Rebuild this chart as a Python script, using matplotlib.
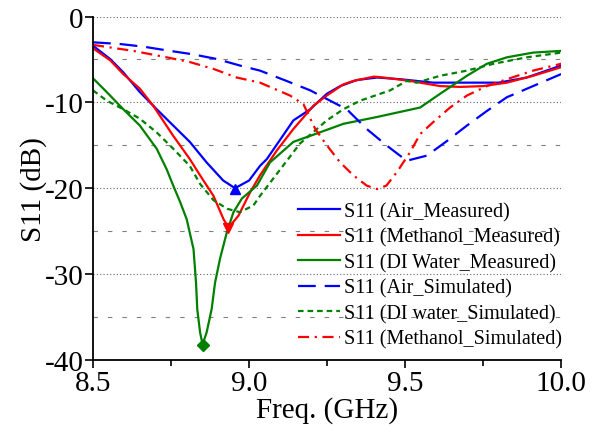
#!/usr/bin/env python3
"""S11 of the sensor: measured vs simulated for air, methanol and DI water."""
import matplotlib
matplotlib.use('Agg')
import matplotlib.pyplot as plt
from matplotlib.ticker import MultipleLocator

# --- data (freq in GHz, S11 in dB) ---
air_meas_f = [8.5, 8.555, 8.597, 8.65, 8.704, 8.757, 8.81, 8.864, 8.917, 8.955,
              9.0, 9.035, 9.057, 9.142, 9.196, 9.249, 9.292, 9.345, 9.41, 9.484,
              9.537, 9.59, 9.698, 9.80, 9.89, 10.0]
air_meas_s = [-3.4, -4.95, -6.5, -8.8, -10.8, -12.7, -14.6, -17.0, -19.1, -20.0,
              -19.1, -17.4, -16.6, -12.1, -10.8, -9.0, -8.1, -7.4, -7.1, -7.3,
              -7.5, -7.7, -7.7, -7.7, -7.1, -5.7]

meth_meas_f = [8.5, 8.555, 8.597, 8.65, 8.693, 8.757, 8.81, 8.843, 8.886, 8.918,
               8.934, 8.966, 9.003, 9.035, 9.089, 9.142, 9.206, 9.249, 9.302, 9.334,
               9.40, 9.43, 9.516, 9.612, 9.676, 9.75, 9.826, 9.91, 10.0]
meth_meas_s = [-3.7, -5.1, -6.7, -8.4, -10.4, -13.9, -16.6, -18.5, -20.9, -23.6,
               -24.6, -23.2, -20.5, -18.5, -15.6, -13.1, -10.4, -9.2, -7.9, -7.5,
               -7.0, -7.1, -7.5, -8.1, -8.2, -8.1, -7.7, -6.9, -5.9]

water_meas_f = [8.5, 8.544, 8.597, 8.65, 8.704, 8.736, 8.757, 8.779, 8.80, 8.822,
                8.83, 8.834, 8.843, 8.851, 8.864, 8.88, 8.891, 8.907, 8.929, 8.95,
                8.977, 9.025, 9.067, 9.142, 9.196, 9.302, 9.41, 9.548, 9.612, 9.698,
                9.762, 9.826, 9.91, 10.0]
water_meas_s = [-7.2, -8.8, -10.8, -12.7, -15.4, -17.8, -19.7, -21.6, -23.6, -27.1,
                -31.0, -34.1, -36.8, -38.2, -36.8, -34.1, -31.0, -28.2, -25.1, -22.8,
                -21.2, -19.7, -17.0, -14.6, -13.9, -12.5, -11.7, -10.6, -9.0, -6.9,
                -5.5, -4.75, -4.2, -4.0]

air_sim_f = [8.5, 8.587, 8.66, 8.747, 8.82, 8.897, 8.97, 9.035, 9.12, 9.196,
             9.27, 9.313, 9.377, 9.44, 9.505, 9.57, 9.634, 9.698, 9.762, 9.826,
             9.91, 10.0]
air_sim_s = [-3.0, -3.2, -3.5, -4.0, -4.4, -4.95, -5.7, -6.3, -7.5, -8.6,
             -10.0, -10.8, -13.1, -15.0, -16.8, -16.2, -14.5, -12.7, -11.0, -9.4,
             -8.1, -6.7]

water_sim_f = [8.5, 8.544, 8.597, 8.65, 8.704, 8.757, 8.81, 8.843, 8.886, 8.93,
               8.971, 9.014, 9.035, 9.10, 9.163, 9.249, 9.302, 9.356, 9.452, 9.505,
               9.537, 9.612, 9.698, 9.783, 9.89, 10.0]
water_sim_s = [-8.6, -9.8, -10.8, -11.9, -13.5, -15.4, -17.4, -19.5, -21.4, -22.4,
               -22.8, -22.0, -20.9, -17.8, -14.8, -12.1, -10.8, -9.8, -8.6, -7.5,
               -7.7, -6.9, -6.3, -5.5, -4.75, -4.2]

meth_sim_f = [8.5, 8.555, 8.629, 8.736, 8.81, 8.886, 8.96, 9.035, 9.131, 9.174,
              9.212, 9.249, 9.292, 9.334, 9.377, 9.41, 9.44, 9.474, 9.516, 9.548,
              9.59, 9.644, 9.698, 9.762, 9.826, 9.91, 10.0]
meth_sim_s = [-3.3, -3.6, -4.0, -4.75, -5.3, -6.1, -7.1, -7.7, -9.2, -10.2,
              -13.1, -15.0, -17.0, -18.5, -19.7, -20.1, -19.7, -18.1, -15.8, -13.7,
              -12.3, -10.6, -9.2, -8.1, -7.3, -6.3, -5.5]

# resonance markers
min_air = (8.955, -20.1)
min_meth = (8.934, -24.6)
min_water = (8.851, -38.3)


def main() -> None:
    plt.rcParams['font.family'] = ['Liberation Serif', 'DejaVu Serif']
    plt.rcParams['axes.unicode_minus'] = False
    fig = plt.figure(figsize=(6.08, 4.39), dpi=100)
    ax = fig.add_axes([0.153, 0.178, 0.770, 0.782])

    lw = 1.6
    ax.plot(air_meas_f, air_meas_s, color='#0000ff', lw=lw, label='S11 (Air_Measured)')
    ax.plot(meth_meas_f, meth_meas_s, color='#ff0000', lw=lw, label='S11 (Methanol_Measured)')
    ax.plot(water_meas_f, water_meas_s, color='#008000', lw=lw, label='S11 (DI Water_Measured)')
    ax.plot(air_sim_f, air_sim_s, color='#0000ff', lw=lw, dashes=(8, 4),
            label='S11 (Air_Simulated)')
    ax.plot(water_sim_f, water_sim_s, color='#008000', lw=lw, dashes=(2.5, 1.8),
            label='S11 (DI water_Simulated)')
    ax.plot(meth_sim_f, meth_sim_s, color='#ff0000', lw=lw, dashes=(5, 2.5, 1, 2.5),
            label='S11 (Methanol_Simulated)')

    ax.plot(*min_air, marker='^', color='#0000ff', ms=7)
    ax.plot(*min_meth, marker='v', color='#ff0000', ms=7)
    ax.plot(*min_water, marker='D', color='#008000', ms=6)

    ax.set_xlim(8.5, 10.0)
    ax.set_ylim(-40, 0)
    ax.xaxis.set_major_locator(MultipleLocator(0.5))
    ax.xaxis.set_minor_locator(MultipleLocator(0.25))
    ax.yaxis.set_major_locator(MultipleLocator(10))
    ax.yaxis.set_minor_locator(MultipleLocator(5))
    ax.xaxis.set_major_formatter(plt.FormatStrFormatter('%.1f'))
    ax.tick_params(axis='both', which='major', direction='out', length=6, width=1.2,
                   labelsize=21, pad=1)
    ax.tick_params(axis='x', which='minor', direction='out', length=4, width=1.2)
    ax.tick_params(axis='y', which='minor', length=0)

    ax.grid(True, axis='y', which='major', color='0.4', lw=0.8, linestyle=(0, (1, 2)))
    ax.grid(True, axis='y', which='minor', color='0.5', lw=0.8, linestyle=(0, (4, 9)))
    ax.set_axisbelow(True)

    for side in ('top', 'right'):
        ax.spines[side].set_visible(False)
    for side in ('left', 'bottom'):
        ax.spines[side].set_linewidth(1.3)

    ax.set_xlabel('Freq. (GHz)', fontsize=21, labelpad=0)
    ax.set_ylabel('S11 (dB)', fontsize=21, labelpad=-2)

    ax.legend(loc='upper left', bbox_to_anchor=(0.438, 0.46), frameon=False,
              fontsize=14.5, handlelength=2.1, handletextpad=0.2, labelspacing=0.31,
              borderaxespad=0, borderpad=0)

    fig.savefig('out.png', dpi=100)
    plt.close(fig)


if __name__ == '__main__':
    main()
